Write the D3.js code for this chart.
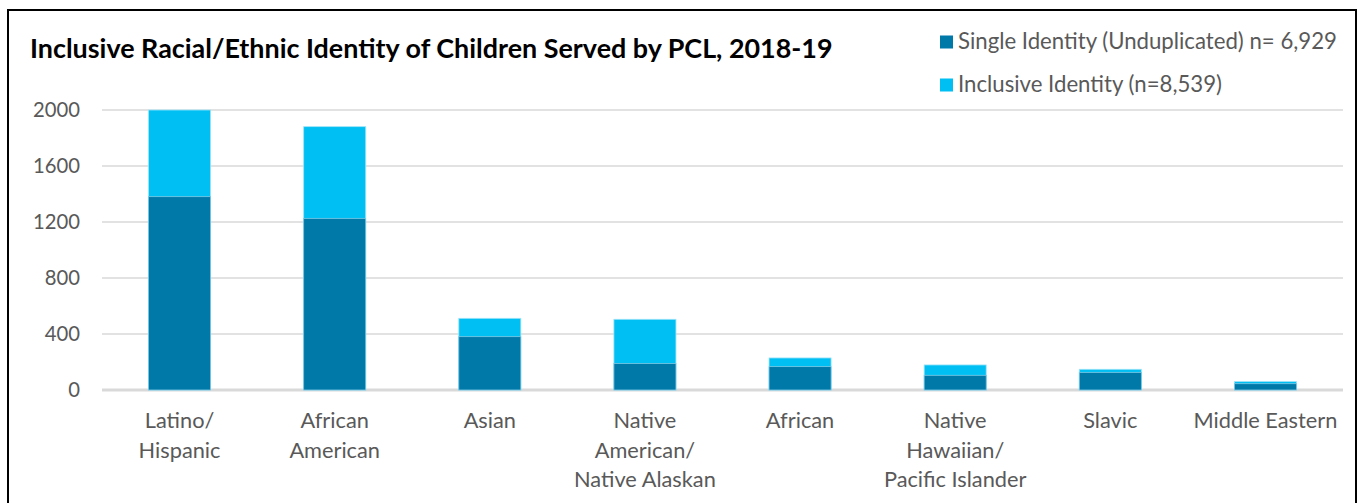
<!DOCTYPE html>
<html>
<head>
<meta charset="utf-8">
<script src="https://cdn.jsdelivr.net/npm/d3@7"></script>
<style>
  html, body { margin: 0; padding: 0; background: #fff; }
  svg { display: block; }
  text { font-family: Lato, "Open Sans", sans-serif; }
</style>
</head>
<body>
<svg id="chart" width="1361" height="503"></svg>
<script>
// ---- data ----
const categories = ["Latino/ Hispanic", "African American", "Asian", "Native American/ Native Alaskan", "African", "Native Hawaiian/ Pacific Islander", "Slavic", "Middle Eastern"];
const categoryLines = [["Latino/", "Hispanic"], ["African", "American"], ["Asian"], ["Native", "American/", "Native Alaskan"], ["African"], ["Native", "Hawaiian/", "Pacific Islander"], ["Slavic"], ["Middle Eastern"]];
const singleValues = [1381, 1226, 381, 190, 167, 105, 126, 45];
const inclusiveValues = [2000, 1881, 512, 505, 229, 179, 148, 60];
const yTicks = [0, 400, 800, 1200, 1600, 2000];
const seriesNames = ["Single Identity (Unduplicated) n= 6,929", "Inclusive Identity (n=8,539)"];
const titleText = "Inclusive Racial/Ethnic Identity of Children Served by PCL, 2018-19";

// ---- layout ----
const colors = { single: "#0079a9", inclusive: "#00c0f3", text: "#595959", grid: "#d9d9d9" };
const svg = d3.select("#chart");

function fitSize(sel, base, target) {
  const w = sel.node().getComputedTextLength();
  return base * target / w;
}

svg.append("rect").attr("x", 8).attr("y", 10).attr("width", 1348).attr("height", 600)
  .attr("fill", "#fff").attr("stroke", "#000").attr("stroke-width", 2);

const x = d3.scaleBand().domain(categories).range([102, 1343]).paddingInner(0.6).paddingOuter(0.3);
const y = d3.scaleLinear().domain([0, 2000]).range([390, 110]);

// gridlines
svg.append("g").selectAll("line").data(yTicks).join("line")
  .attr("x1", 102).attr("x2", 1343)
  .attr("y1", d => y(d)).attr("y2", d => y(d))
  .attr("stroke", colors.grid)
  .attr("stroke-width", d => d === 0 ? 3 : 1.3);

// y axis labels
const yAxis = d3.axisLeft(y).tickValues(yTicks).tickSize(0).tickPadding(0).tickFormat(d3.format("d"));
const yg = svg.append("g").attr("transform", "translate(80,0)").call(yAxis);
yg.select(".domain").remove();
yg.selectAll("text").attr("fill", colors.text).style("font-size", "18px").style("font-family", "Lato, 'Open Sans', sans-serif");
const yfs = fitSize(yg.selectAll("text").filter(d => d === 2000), 18, 47);
yg.selectAll("text").style("font-size", yfs + "px");

// bars
const bars = svg.append("g");
bars.selectAll("rect.inc").data(categories).join("rect").attr("class", "inc")
  .attr("x", d => x(d)).attr("width", x.bandwidth())
  .attr("y", (d, i) => y(inclusiveValues[i]))
  .attr("height", (d, i) => y(0) - y(inclusiveValues[i]))
  .attr("fill", colors.inclusive).attr("stroke", "#9fe3f8").attr("stroke-width", 0.8);
bars.selectAll("rect.sin").data(categories).join("rect").attr("class", "sin")
  .attr("x", d => x(d)).attr("width", x.bandwidth())
  .attr("y", (d, i) => y(singleValues[i]))
  .attr("height", (d, i) => y(0) - y(singleValues[i]))
  .attr("fill", colors.single).attr("stroke", "#7fcbe6").attr("stroke-width", 0.8);

// x labels
const xl = svg.append("g");
categories.forEach((c, i) => {
  const t = xl.append("text").attr("text-anchor", "middle")
    .attr("x", x(c) + x.bandwidth() / 2).attr("y", 428)
    .attr("fill", colors.text).style("font-size", "19px");
  categoryLines[i].forEach((ln, j) => {
    t.append("tspan").attr("x", x(c) + x.bandwidth() / 2).attr("y", 428 + j * 29.5).text(ln);
  });
});
const xfs = fitSize(xl.selectAll("text").filter((d, i, n) => n[i].textContent === "Middle Eastern"), 19, 144);
xl.selectAll("text").style("font-size", xfs + "px");

// title
const title = svg.append("text").attr("x", 30).attr("y", 58)
  .style("font-weight", "bold").style("font-size", "20px").attr("fill", "#000").text(titleText);
title.style("font-size", fitSize(title, 20, 803) + "px");

// legend
const legendColors = [colors.single, colors.inclusive];
const lg = svg.append("g");
seriesNames.forEach((s, i) => {
  const cy = 42 + i * 43;
  lg.append("rect").attr("x", 940).attr("y", cy - 6.5).attr("width", 13).attr("height", 13).attr("fill", legendColors[i]);
  lg.append("text").attr("x", 958).attr("y", cy + 6.5).attr("fill", colors.text)
    .style("font-size", "19px").text(s);
});
const lfs = fitSize(lg.select("text"), 19, 379);
lg.selectAll("text").style("font-size", lfs + "px");
</script>
</body>
</html>
